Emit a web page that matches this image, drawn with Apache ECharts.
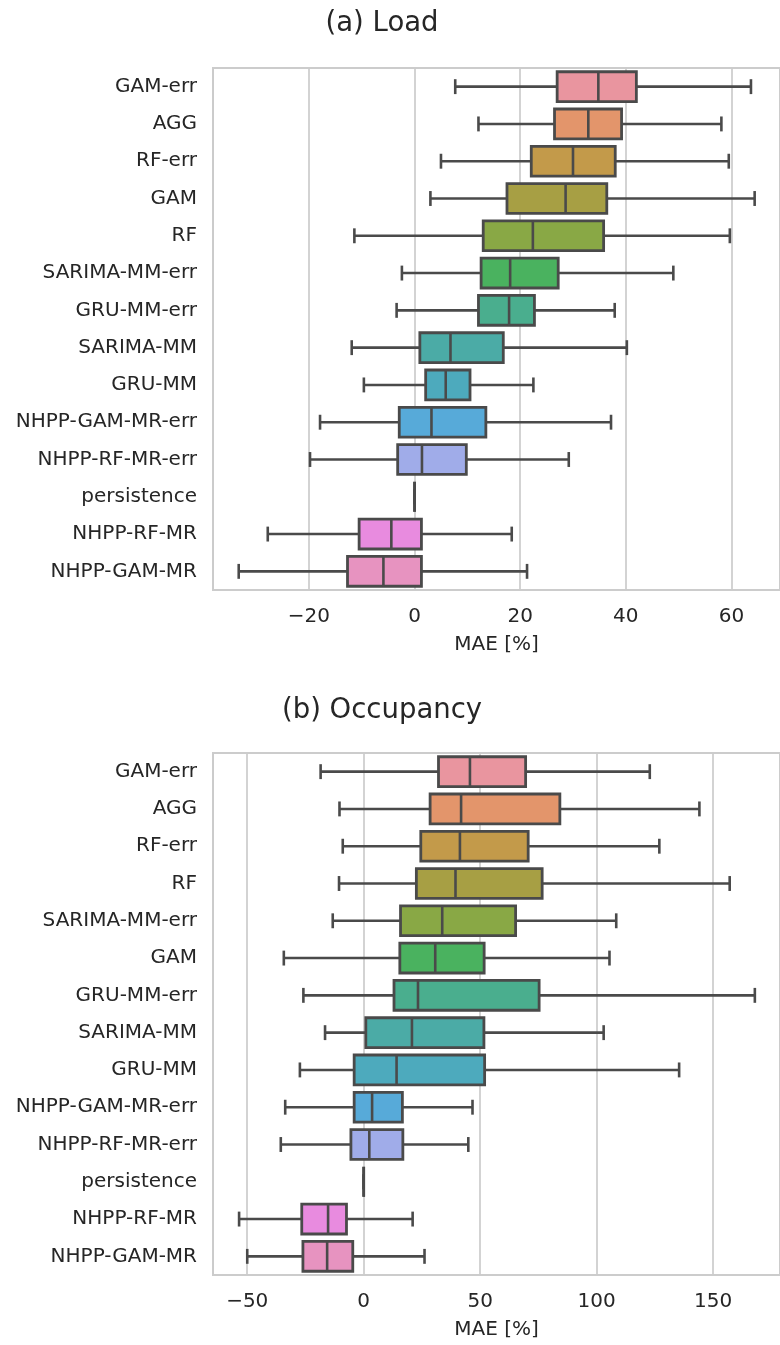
<!DOCTYPE html>
<html>
<head>
<meta charset="utf-8">
<script src="https://cdn.jsdelivr.net/npm/echarts@6/dist/echarts.min.js"></script>
<style>
html,body{margin:0;padding:0;background:#fff;}
#chart{width:780px;height:1345px;}
</style>
</head>
<body>
<div id="chart"></div>
<script>
// ---------- Data ----------
const loadCategories = ['GAM-err','AGG','RF-err','GAM','RF','SARIMA-MM-err','GRU-MM-err','SARIMA-MM','GRU-MM','NHPP-GAM-MR-err','NHPP-RF-MR-err','persistence','NHPP-RF-MR','NHPP-GAM-MR'];
const loadLow    = [7.7, 12.1, 5.0, 3.0, -11.4, -2.4, -3.4, -11.9, -9.6, -17.9, -19.8, 0, -27.8, -33.3];
const loadQ1     = [27.0, 26.5, 22.1, 17.5, 13.0, 12.6, 12.1, 1.0, 2.1, -2.9, -3.2, 0, -10.5, -12.7];
const loadMedian = [34.8, 32.9, 30.0, 28.6, 22.4, 18.1, 17.9, 6.8, 5.9, 3.2, 1.4, 0, -4.4, -5.9];
const loadQ3     = [42.0, 39.2, 38.0, 36.4, 35.8, 27.2, 22.7, 16.8, 10.5, 13.5, 9.8, 0, 1.3, 1.3];
const loadHigh   = [63.7, 58.1, 59.5, 64.4, 59.7, 49.0, 37.9, 40.2, 22.5, 37.2, 29.2, 0, 18.4, 21.3];

const occCategories = ['GAM-err','AGG','RF-err','RF','SARIMA-MM-err','GAM','GRU-MM-err','SARIMA-MM','GRU-MM','NHPP-GAM-MR-err','NHPP-RF-MR-err','persistence','NHPP-RF-MR','NHPP-GAM-MR'];
const occLow    = [-18.5, -10.4, -9.0, -10.6, -13.3, -34.3, -25.9, -16.6, -27.4, -33.7, -35.6, 0, -53.5, -50.0];
const occQ1     = [32.1, 28.5, 24.5, 22.6, 15.8, 15.5, 13.0, 0.9, -4.1, -4.1, -5.5, 0, -26.6, -26.1];
const occMedian = [45.6, 41.8, 41.3, 39.4, 33.7, 30.7, 23.3, 20.7, 14.1, 3.6, 2.4, 0, -15.3, -15.7];
const occQ3     = [69.5, 84.2, 70.6, 76.6, 65.2, 51.7, 75.3, 51.6, 51.9, 16.6, 16.8, 0, -7.4, -4.7];
const occHigh   = [122.8, 144.1, 126.9, 157.1, 108.4, 105.5, 167.9, 103.0, 135.4, 46.7, 44.9, 0, 21.0, 26.1];

const titles = ['(a) Load', '(b) Occupancy'];
const axisName = 'MAE [%]';

const palette = ['#E9959F','#E3956B','#C39A4A','#A79F44','#89A845','#4AB25F','#4AAE8E','#4BABA6','#4DAABD','#57AAD9','#A0ACE9','#C59DE9','#E88BDF','#E793C0'];

// ---------- Build ----------
function rows(cats, lo, q1, md, q3, hi) {
  return cats.map((c, i) => [i, lo[i], q1[i], md[i], q3[i], hi[i]]);
}
const TEXT = '#262626';
const EDGE = '#4a4a4a';
const FONT = 'DejaVu Sans';

function renderBox(params, api) {
  const idx = api.value(0);
  const lo = api.value(1), q1 = api.value(2), md = api.value(3), q3 = api.value(4), hi = api.value(5);
  const band = api.size([0, 1])[1];
  const half = band * 0.4;
  const capHalf = band * 0.2;
  const pLo = api.coord([lo, idx]);
  const pQ1 = api.coord([q1, idx]);
  const pMd = api.coord([md, idx]);
  const pQ3 = api.coord([q3, idx]);
  const pHi = api.coord([hi, idx]);
  const y = pMd[1];
  const lineStyle = { stroke: EDGE, lineWidth: 2.6 };
  return {
    type: 'group',
    children: [
      { type: 'line', shape: { x1: pLo[0], y1: y, x2: pQ1[0], y2: y }, style: lineStyle },
      { type: 'line', shape: { x1: pQ3[0], y1: y, x2: pHi[0], y2: y }, style: lineStyle },
      { type: 'line', shape: { x1: pLo[0], y1: y - capHalf, x2: pLo[0], y2: y + capHalf }, style: lineStyle },
      { type: 'line', shape: { x1: pHi[0], y1: y - capHalf, x2: pHi[0], y2: y + capHalf }, style: lineStyle },
      { type: 'rect', shape: { x: pQ1[0], y: y - half, width: pQ3[0] - pQ1[0], height: half * 2 },
        style: { fill: palette[idx % palette.length], stroke: EDGE, lineWidth: 2.8 } },
      { type: 'line', shape: { x1: pMd[0], y1: y - half, x2: pMd[0], y2: y + half }, style: lineStyle }
    ]
  };
}

function minusFmt(v) {
  return v < 0 ? '\u2212' + Math.abs(v) : String(v);
}

function xAxisCfg(gridIndex, min, max, step) {
  return {
    type: 'value', gridIndex, min, max, minInterval: step, maxInterval: step,
    axisLine: { show: false }, axisTick: { show: false },
    splitLine: { show: true, lineStyle: { color: '#cccccc', width: 1.7 } },
    axisLabel: { color: TEXT, fontSize: 20, fontFamily: FONT, margin: 17, formatter: minusFmt,
                 showMinLabel: false, showMaxLabel: false },
    name: axisName, nameLocation: 'middle', nameGap: 45,
    nameTextStyle: { color: TEXT, fontSize: 20, fontFamily: FONT }
  };
}
function yAxisCfg(gridIndex, cats) {
  return {
    type: 'category', gridIndex, data: cats, inverse: true,
    axisLine: { show: false }, axisTick: { show: false }, splitLine: { show: false },
    axisLabel: { color: TEXT, fontSize: 20, fontFamily: FONT, margin: 16, padding: [4, 0, 0, 0] }
  };
}

const option = {
  animation: false,
  backgroundColor: '#ffffff',
  title: [
    { text: titles[0], left: 382, top: 10, padding: 0, textAlign: 'center',
      textStyle: { color: TEXT, fontSize: 27.5, fontWeight: 'normal', fontFamily: FONT } },
    { text: titles[1], left: 382, top: 697, padding: 0, textAlign: 'center',
      textStyle: { color: TEXT, fontSize: 27.5, fontWeight: 'normal', fontFamily: FONT } }
  ],
  grid: [
    { left: 213, top: 68, right: -2, height: 522, show: true, borderColor: '#cccccc', borderWidth: 2, backgroundColor: '#ffffff', containLabel: false },
    { left: 213, top: 753, right: -2, height: 522, show: true, borderColor: '#cccccc', borderWidth: 2, backgroundColor: '#ffffff', containLabel: false }
  ],
  xAxis: [ xAxisCfg(0, -38.17, 69.2, 20), xAxisCfg(1, -64.7, 178.7, 50) ],
  yAxis: [ yAxisCfg(0, loadCategories), yAxisCfg(1, occCategories) ],
  series: [
    { type: 'custom', xAxisIndex: 0, yAxisIndex: 0, renderItem: renderBox,
      encode: { x: [1, 2, 3, 4, 5], y: 0 },
      data: rows(loadCategories, loadLow, loadQ1, loadMedian, loadQ3, loadHigh) },
    { type: 'custom', xAxisIndex: 1, yAxisIndex: 1, renderItem: renderBox,
      encode: { x: [1, 2, 3, 4, 5], y: 0 },
      data: rows(occCategories, occLow, occQ1, occMedian, occQ3, occHigh) }
  ]
};

const chart = echarts.init(document.getElementById('chart'), null, { renderer: 'canvas' });
chart.setOption(option);
</script>
</body>
</html>
